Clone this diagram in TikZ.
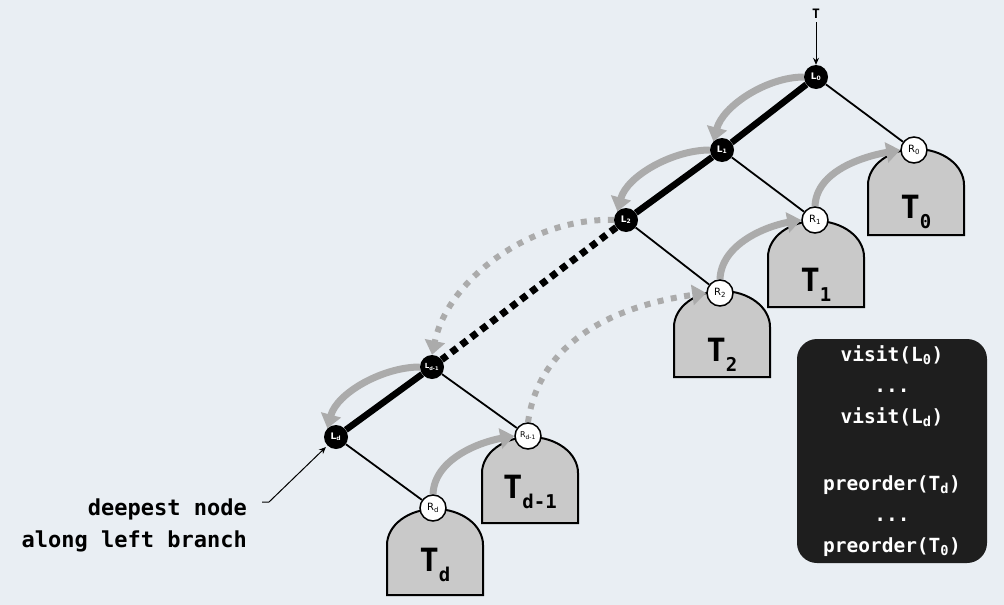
\documentclass[tikz,border=0pt]{standalone}
\usepackage{fontspec}
\setmonofont{DejaVu Sans Mono}
\setsansfont{DejaVu Sans}
\usetikzlibrary{arrows.meta}
\pgfdeclarelayer{back}\pgfdeclarelayer{bg}\pgfdeclarelayer{mid}\pgfsetlayers{back,bg,mid,main}
\definecolor{bgc}{HTML}{E9EEF3}
\definecolor{arr}{HTML}{ABABAB}
\definecolor{treefill}{HTML}{C9C9C9}
\definecolor{boxc}{HTML}{1E1E1E}
\newcommand{\bigsub}[1]{\raisebox{-0.3em}{\fontsize{19}{19}\selectfont #1}}
\begin{document}
\begin{tikzpicture}[x=1pt,y=-1pt,
  lnode/.style={circle,fill=black,minimum size=24pt,inner sep=0pt,text=white,font=\sffamily\bfseries\fontsize{9}{9}\selectfont},
  rnode/.style={circle,fill=white,draw=black,line width=1.5pt,minimum size=26pt,inner sep=0pt,font=\sffamily\fontsize{10}{10}\selectfont},
  thickedge/.style={line width=6.5pt},
  thinedge/.style={line width=1.8pt},
  dotedge/.style={line width=7pt,dash pattern=on 7pt off 5.5pt},
  garrow/.style={draw=arr,line width=7pt,-{Triangle[length=14pt,width=20pt]}},
  gdots/.style={garrow,line width=6pt,dash pattern=on 6pt off 7.5pt},
  subtree/.pic={\draw[line width=2pt,fill=treefill] (-48,0) -- (-48,-50) arc[start angle=180,end angle=0,x radius=48pt,y radius=36pt] -- (48,0) -- cycle;},
  tlabel/.style={font=\ttfamily\bfseries\fontsize{32}{32}\selectfont,inner sep=0pt},
  note/.style={font=\ttfamily\bfseries\fontsize{22}{32}\selectfont,align=right,inner sep=0pt},
  codebox/.style={fill=boxc,rounded corners=20pt,minimum width=190pt,minimum height=224pt,text=white,align=center,font=\ttfamily\bfseries\fontsize{19.5}{31}\selectfont,inner sep=0pt}
]
\useasboundingbox (0,0) rectangle (1004,605);
\begin{pgfonlayer}{back}
\fill[bgc] (0,0) rectangle (1004,605);
\end{pgfonlayer}

% nodes
\node[font=\ttfamily\bfseries\fontsize{13}{13}\selectfont] (T) at (816,14) {T};
\node[lnode] (L0) at (816,77) {L\textsubscript{0}};
\node[lnode] (L1) at (722,150) {L\textsubscript{1}};
\node[lnode] (L2) at (626,220) {L\textsubscript{2}};
\node[lnode] (Ld1) at (432,367) {\fontsize{7}{7}\selectfont L\textsubscript{d-1}};
\node[lnode] (Ld) at (336,437) {L\textsubscript{d}};
\node[rnode] (R0) at (914,150) {R\textsubscript{0}};
\node[rnode] (R1) at (815,220) {R\textsubscript{1}};
\node[rnode] (R2) at (720,293) {R\textsubscript{2}};
\node[rnode] (Rd1) at (528,436) {\fontsize{8}{8}\selectfont R\textsubscript{d-1}};
\node[rnode] (Rd) at (433,508) {R\textsubscript{d}};

\node[tlabel] (t0) at (916,212) {T\bigsub{0}};
\node[tlabel] (t1) at (816,285) {T\bigsub{1}};
\node[tlabel] (t2) at (722,355) {T\bigsub{2}};
\node[tlabel] (td1) at (530,492) {T\bigsub{d-1}};
\node[tlabel] (td) at (435,565) {T\bigsub{d}};

\node[note,anchor=east] (note) at (247,525) {deepest node\\along left branch};
\coordinate (nk) at (262,502);

\node[codebox] (code) at (892,451) {visit(L\textsubscript{0})\\...\\visit(L\textsubscript{d})\\[36pt]preorder(T\textsubscript{d})\\...\\preorder(T\textsubscript{0})};

\begin{pgfonlayer}{bg}
\pic at (916,235) {subtree};
\pic at (816,307) {subtree};
\pic at (722,377) {subtree};
\pic at (530,523) {subtree};
\pic at (435,595) {subtree};
\end{pgfonlayer}

\begin{pgfonlayer}{mid}
\draw[thickedge] (L0) -- (L1);
\draw[thickedge] (L1) -- (L2);
\draw[dotedge] (L2) -- (Ld1);
\draw[thickedge] (Ld1) -- (Ld);
\draw[thinedge] (L0) -- (R0);
\draw[thinedge] (L1) -- (R1);
\draw[thinedge] (L2) -- (R2);
\draw[thinedge] (Ld1) -- (Rd1);
\draw[thinedge] (Ld) -- (Rd);

\draw[garrow] (L0.west) to[out=180,in=75,looseness=0.85] (L1.north west);
\draw[garrow] (L1.west) to[out=180,in=75,looseness=0.85] (L2.north west);
\draw[gdots] (L2.west) to[out=178,in=78,looseness=0.9] (Ld1.north);
\draw[garrow] (Ld1.west) to[out=180,in=75,looseness=0.85] (Ld.north west);

\draw[garrow] (Rd.north) to[out=88,in=190,looseness=0.9] (Rd1.west);
\draw[gdots] (Rd1.north) to[out=82,in=188] (R2.west);
\draw[garrow] (R2.north) to[out=88,in=190,looseness=0.9] (R1.west);
\draw[garrow] (R1.north) to[out=88,in=190,looseness=0.9] (R0.west);
\end{pgfonlayer}

\draw[line width=1pt,-{Stealth[length=7pt,width=6pt]}] (T) -- (L0);
\draw[line width=1pt,-{Stealth[length=7pt,width=6pt]},shorten >=2pt] (nk) -- ++(7,0) -- (Ld.south west);
\end{tikzpicture}
\end{document}
